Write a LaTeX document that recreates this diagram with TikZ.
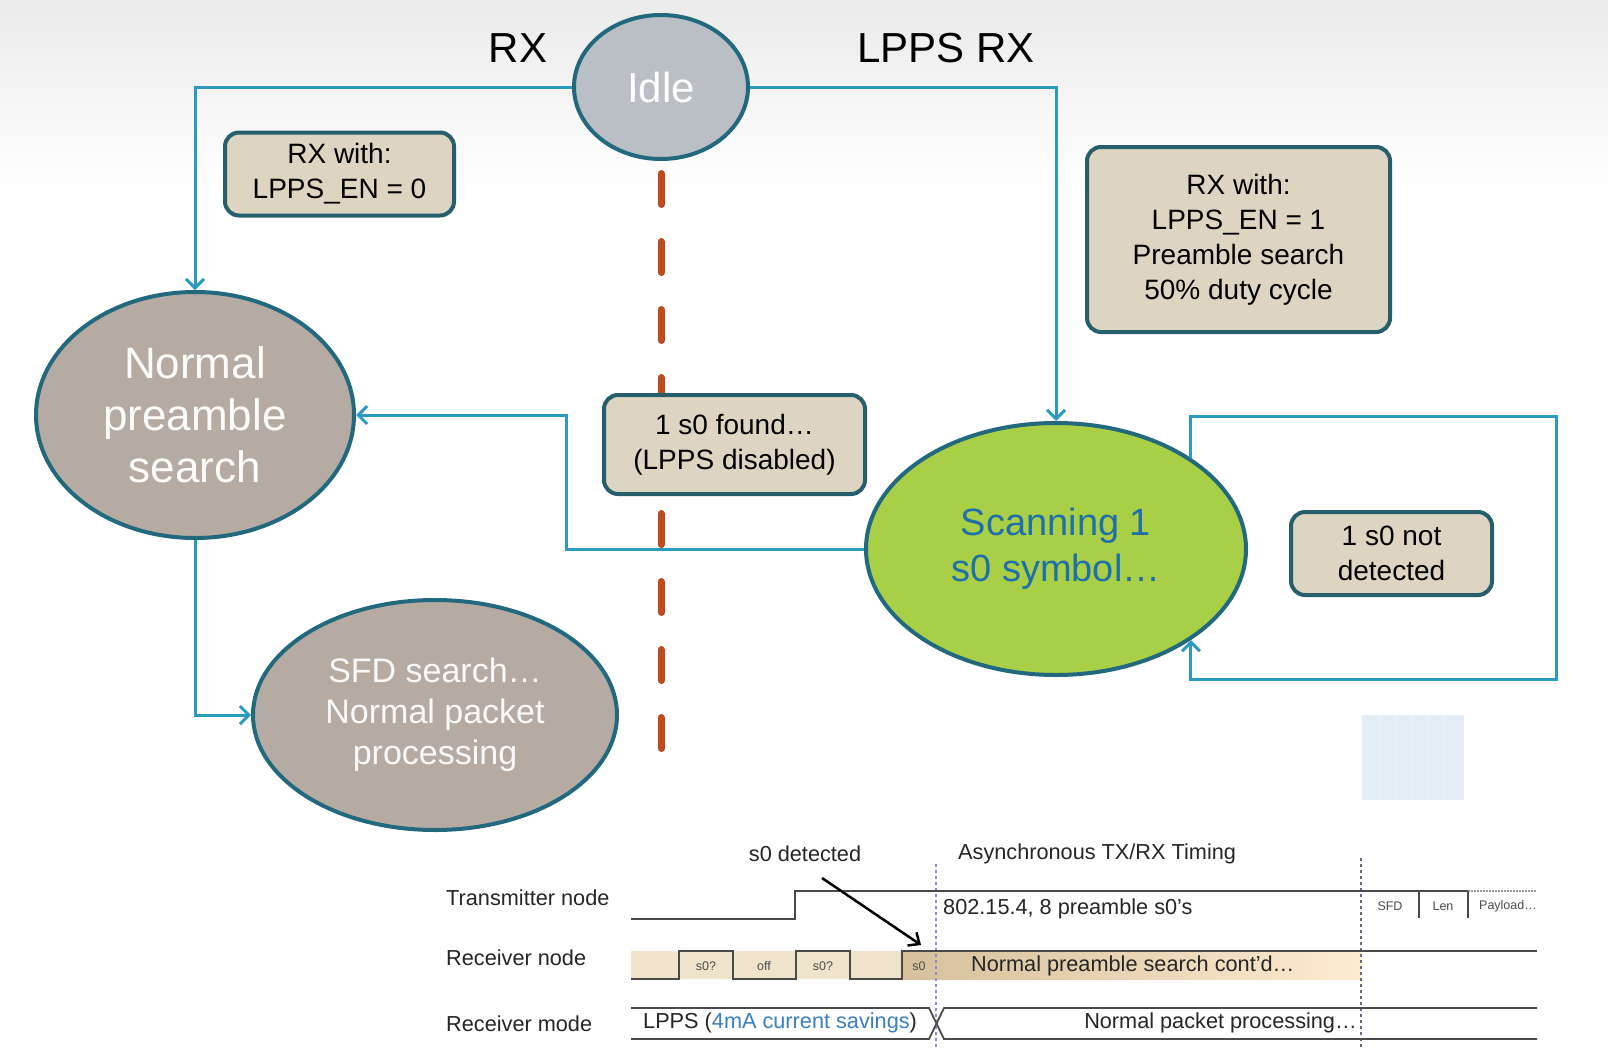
\documentclass[tikz,border=0pt]{standalone}
\usepackage{fontspec}
\setmainfont{Liberation Sans}
\usetikzlibrary{arrows.meta,shapes.geometric}

\definecolor{wirec}{HTML}{2B9AC1}
\definecolor{rimc}{HTML}{22697D}
\definecolor{idlefill}{HTML}{BABEC5}
\definecolor{taupe}{HTML}{B5ABA3}
\definecolor{limec}{HTML}{A8CF45}
\definecolor{scantext}{HTML}{1F6FAA}
\definecolor{notefill}{HTML}{DDD5C2}
\definecolor{noterim}{HTML}{265E6C}
\definecolor{sepc}{HTML}{BF4A1E}
\definecolor{sigc}{HTML}{4A4A4A}
\definecolor{bandc}{HTML}{EFE3CB}
\definecolor{tanc}{HTML}{D6C09C}
\definecolor{peachc}{HTML}{FDEBD0}
\definecolor{savec}{HTML}{3A7FC0}
\definecolor{markc}{HTML}{8C8CCC}
\definecolor{markd}{HTML}{6A6A8A}
\definecolor{paleblue}{HTML}{E4EDF6}

\tikzset{
  wire/.style={draw=wirec, line width=3pt},
  wirearrow/.style={wire, -{Straight Barb[length=9pt,width=18pt]}},
  state/.style={ellipse, draw=rimc, line width=4pt, inner sep=0pt, align=center},
  note/.style={rectangle, rounded corners=14pt, draw=noterim, fill=notefill,
    line width=4pt, align=center, inner sep=0pt, text=black,
    font=\fontsize{28}{35}\selectfont},
  sepline/.style={draw=sepc, line width=7pt, line cap=round, dash pattern=on 31pt off 37pt},
  sig/.style={draw=sigc, line width=1.8pt},
  lbl/.style={font=\fontsize{21.7}{25}\selectfont, text=black!85, inner sep=0pt},
  tinylbl/.style={font=\fontsize{12.5}{14}\selectfont, text=black!70, inner sep=0pt},
  marker/.style={line width=1.4pt, dash pattern=on 3pt off 3pt},
  biglbl/.style={font=\fontsize{42}{50}\selectfont, text=black, inner sep=0pt},
}

\begin{document}
\begin{tikzpicture}[x=1pt,y=-1pt]
\useasboundingbox (0,0) rectangle (1608,1049);

% soft grey band along the top
\shade[top color=black!8, bottom color=white] (0,0) rectangle (1608,190);
\fill[white] (0,190) rectangle (1608,1049);

% pale striped patch
\fill[paleblue] (1362,715) rectangle (1464,800);
\foreach \xx in {1380,1396,1412,1428,1444}
  \draw[white!30!paleblue, line width=1pt] (\xx,715) -- (\xx,800);

% dashed separator
\coordinate (sepA) at (661,173.5);
\coordinate (sepB) at (661,748.5);
\draw[sepline] (sepA) -- (sepB);

% states
\node[state, fill=idlefill, text=white, minimum width=174pt, minimum height=144pt,
  font=\fontsize{42}{50}\selectfont] (idle) at (661,87) {Idle};
\node[state, fill=taupe, text=white!95!taupe, minimum width=318pt, minimum height=246pt,
  font=\fontsize{44}{52}\selectfont] (normal) at (195,415) {Normal\\preamble\\search};
\node[state, fill=taupe, text=white!92!taupe, minimum width=364pt, minimum height=230pt,
  font=\fontsize{34}{41}\selectfont] (sfd) at (435,715) {SFD search\ldots\\Normal packet\\processing};
\node[state, fill=limec, text=scantext, minimum width=380pt, minimum height=252pt,
  font=\fontsize{38}{46}\selectfont] (scan) at (1056,549) {Scanning 1\\s0 symbol\ldots};

% transition notes
\node[note, minimum width=229pt, minimum height=83pt] (n0) at (339.5,174) {RX with:\\LPPS\_EN = 0};
\node[note, minimum width=303pt, minimum height=185pt] (n1) at (1238.5,239.5)
  {RX with:\\LPPS\_EN = 1\\Preamble search\\50\% duty cycle};
\node[note, minimum width=261pt, minimum height=99pt] (nfound) at (734.5,444.5)
  {1 s0 found\ldots\\(LPPS disabled)};
\node[note, minimum width=201pt, minimum height=83pt] (nmiss) at (1391.5,553.5)
  {1 s0 not\\detected};

% branch labels
\node[biglbl] (rxlbl) at (518,48) {RX};
\node[biglbl] (lppslbl) at (946,48) {LPPS RX};

% transitions
\draw[wirearrow] (idle.west) -| (normal.north);
\draw[wirearrow] (idle.east) -| (scan.north);
\draw[wirearrow] (normal.south) |- (sfd.west);
\coordinate (fb1) at (566,549);
\coordinate (fb2) at (566,415);
\draw[wirearrow] (scan.west) -- (fb1) -- (fb2) -- (normal.east);
\coordinate (lp2) at (1556,416);
\coordinate (lp3) at (1556,679);
\draw[wirearrow] (scan.34) |- (lp2) -- (lp3) -| (scan.-34);

% ---- timing diagram ----
\node[lbl, anchor=west] (txl) at (446,898) {Transmitter node};
\node[lbl, anchor=west] (rxnl) at (446,958) {Receiver node};
\node[lbl, anchor=west] (rxml) at (446,1024) {Receiver mode};
\node[lbl] (s0lbl) at (805,854) {s0 detected};
\node[lbl, anchor=west] (async) at (958,854) {Asynchronous TX/RX Timing};

% receiver band fills
\fill[bandc] (631,951) rectangle (902,979);
\shade[left color=tanc, right color=peachc] (902,951) rectangle (1361,979);

% markers
\draw[marker, draw=markc] (936,864) -- (936,1049);
\draw[marker, draw=markd] (1361,858) -- (1361,1049);

% transmitter waveform
\draw[sig] (631,919) -- (795,919) -- (795,891) -- (1468,891);
\draw[draw=black!40, line width=1.6pt, dash pattern=on 2pt off 1pt] (1468,891) -- (1537,891);
\draw[sig] (1419,891) -- (1419,918);
\draw[sig] (1468,891) -- (1468,918);
\node[lbl, anchor=west] (txtext) at (943,909) {802.15.4, 8 preamble s0's};
\node[tinylbl] (sfdl) at (1390,906) {SFD};
\node[tinylbl] (lenl) at (1443,906) {Len};
\node[tinylbl] (payl) at (1508,906) {Payload\ldots};

% receiver waveform
\draw[sig] (631,979) -- (679,979) -- (679,951) -- (733,951) -- (733,979) -- (796,979)
  -- (796,951) -- (850,951) -- (850,979) -- (902,979) -- (902,951) -- (1537,951);
\node[tinylbl] (p1) at (706,966) {s0?};
\node[tinylbl] (p2) at (764,966) {off};
\node[tinylbl] (p3) at (823,966) {s0?};
\node[tinylbl] (p4) at (919,966) {s0};
\node[lbl, anchor=west] (cont) at (971,966) {Normal preamble search cont'd\ldots};

% receiver mode
\draw[sig] (631,1008) -- (929,1008) -- (944,1039) -- (1537,1039);
\draw[sig] (631,1039) -- (929,1039) -- (944,1008) -- (1537,1008);
\node[lbl, anchor=west] (lppsmode) at (643,1023) {LPPS (\textcolor{savec}{4mA current savings})};
\node[lbl, anchor=east] (normmode) at (1357,1023) {Normal packet processing\ldots};

% detection pointer
\coordinate (s0tail) at (822,878);
\coordinate (s0tip) at (921,945);
\draw[black, line width=2.5pt, -{Straight Barb[length=9pt,width=16pt]}] (s0tail) -- (s0tip);
\end{tikzpicture}
\end{document}
